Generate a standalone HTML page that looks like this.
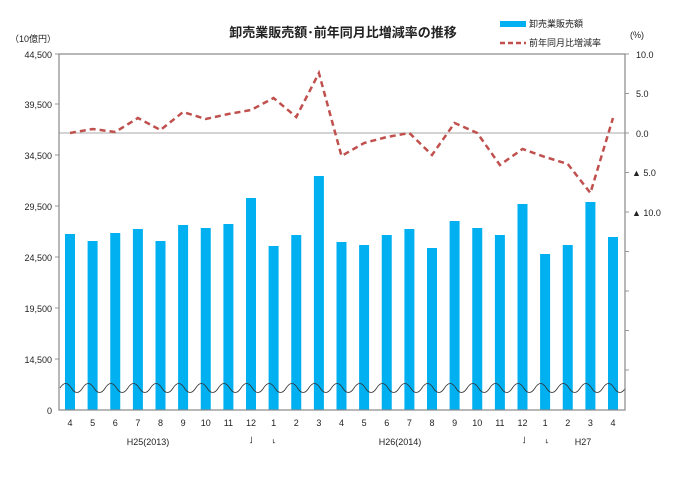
<!DOCTYPE html>
<html><head><meta charset="utf-8"><style>
body{margin:0;background:#fff}
svg text{font-family:"Liberation Sans","Noto Sans CJK JP",sans-serif}
</style></head><body>
<svg width="695" height="472" viewBox="0 0 695 472" xmlns="http://www.w3.org/2000/svg">
<rect width="695" height="472" fill="#fff"/>
<text x="343" y="37" font-size="13" font-weight="bold" text-anchor="middle" fill="#222">卸売業販売額･前年同月比増減率の推移</text>
<rect x="500" y="21" width="26" height="6" fill="#00b0f0"/>
<text x="529" y="27" font-size="9" fill="#222">卸売業販売額</text>
<line x1="500" y1="43" x2="526" y2="43" stroke="#c0504d" stroke-width="2.5" stroke-dasharray="5,3"/>
<text x="529" y="46" font-size="9" fill="#222">前年同月比増減率</text>
<text x="10" y="42" font-size="9" fill="#222">（10億円）</text>
<text x="630" y="38" font-size="9" fill="#222">(%)</text>
<g font-size="9" fill="#222" text-anchor="end">
<text x="52" y="58">44,500</text><text x="52" y="108">39,500</text><text x="52" y="159">34,500</text>
<text x="52" y="210">29,500</text><text x="52" y="261">24,500</text><text x="52" y="312">19,500</text>
<text x="52" y="363">14,500</text><text x="52" y="414">0</text>
</g>
<g font-size="9" fill="#222">
<text x="636" y="58">10.0</text><text x="636" y="97">5.0</text><text x="636" y="137">0.0</text>
<text x="632" y="176">▲ 5.0</text><text x="632" y="216">▲ 10.0</text>
</g>
<g stroke="#999" stroke-width="1">
<line x1="625" y1="54" x2="629" y2="54"/><line x1="625" y1="93.5" x2="629" y2="93.5"/><line x1="625" y1="133" x2="629" y2="133"/>
<line x1="625" y1="172.5" x2="629" y2="172.5"/><line x1="625" y1="212" x2="629" y2="212"/><line x1="625" y1="251.5" x2="629" y2="251.5"/>
<line x1="625" y1="291" x2="629" y2="291"/><line x1="625" y1="330.5" x2="629" y2="330.5"/><line x1="625" y1="370" x2="629" y2="370"/>
<line x1="55" y1="54" x2="59" y2="54"/><line x1="55" y1="104" x2="59" y2="104"/><line x1="55" y1="155" x2="59" y2="155"/>
<line x1="55" y1="206" x2="59" y2="206"/><line x1="55" y1="257" x2="59" y2="257"/><line x1="55" y1="308" x2="59" y2="308"/>
<line x1="55" y1="359" x2="59" y2="359"/>
</g>
<line x1="59" y1="133" x2="625" y2="133" stroke="#bbb" stroke-width="1.2"/>
<g fill="#00b0f0">
<rect x="65" y="234" width="10" height="176"/>
<rect x="87.6" y="241" width="10" height="169"/>
<rect x="110.25" y="233" width="10" height="177"/>
<rect x="132.9" y="229" width="10" height="181"/>
<rect x="155.5" y="241" width="10" height="169"/>
<rect x="178.1" y="225" width="10" height="185"/>
<rect x="200.75" y="228" width="10" height="182"/>
<rect x="223.4" y="224" width="10" height="186"/>
<rect x="246" y="198" width="10" height="212"/>
<rect x="268.6" y="246" width="10" height="164"/>
<rect x="291.25" y="235" width="10" height="175"/>
<rect x="313.9" y="176" width="10" height="234"/>
<rect x="336.5" y="242" width="10" height="168"/>
<rect x="359.1" y="245" width="10" height="165"/>
<rect x="381.75" y="235" width="10" height="175"/>
<rect x="404.4" y="229" width="10" height="181"/>
<rect x="427" y="248" width="10" height="162"/>
<rect x="449.6" y="221" width="10" height="189"/>
<rect x="472.25" y="228" width="10" height="182"/>
<rect x="494.9" y="235" width="10" height="175"/>
<rect x="517.5" y="204" width="10" height="206"/>
<rect x="540.1" y="254" width="10" height="156"/>
<rect x="562.75" y="245" width="10" height="165"/>
<rect x="585.4" y="202" width="10" height="208"/>
<rect x="608" y="237" width="10" height="173"/>
</g>
<path id="wave" fill="none" stroke="#333" stroke-width="0.8" d="M60,388 q5.66,-9 11.31,0 t11.31,0 t11.31,0 t11.31,0 t11.31,0 t11.31,0 t11.31,0 t11.31,0 t11.31,0 t11.31,0 t11.31,0 t11.31,0 t11.31,0 t11.31,0 t11.31,0 t11.31,0 t11.31,0 t11.31,0 t11.31,0 t11.31,0 t11.31,0 t11.31,0 t11.31,0 t11.31,0 t11.31,0 t11.31,0 t11.31,0 t11.31,0 t11.31,0 t11.31,0 t11.31,0 t11.31,0 t11.31,0 t11.31,0 t11.31,0 t11.31,0 t11.31,0 t11.31,0 t11.31,0 t11.31,0 t11.31,0 t11.31,0 t11.31,0 t11.31,0 t11.31,0 t11.31,0 t11.31,0 t11.31,0 t11.31,0 t11.31,0"/>
<polyline fill="none" stroke="#c0504d" stroke-width="2.5" stroke-dasharray="6,4" points="70,133 92.6,129 115.25,132 137.9,118 160.5,130 183.1,112 205.75,119 228.4,114 251,110 273.6,98 296.25,117 318.9,73 341.5,156 364.1,143 386.75,137 409.4,133 432,155 454.6,123 477.25,133 499.9,165 522.5,149 545.1,157 567.75,164 590.4,193 613,118"/>
<rect x="59" y="54" width="566" height="356" fill="none" stroke="#888" stroke-width="1.2"/>
<g font-size="9" fill="#222" text-anchor="middle">
<text x="70" y="426">4</text><text x="92.6" y="426">5</text><text x="115.25" y="426">6</text><text x="137.9" y="426">7</text>
<text x="160.5" y="426">8</text><text x="183.1" y="426">9</text><text x="205.75" y="426">10</text><text x="228.4" y="426">11</text>
<text x="251" y="426">12</text><text x="273.6" y="426">1</text><text x="296.25" y="426">2</text><text x="318.9" y="426">3</text>
<text x="341.5" y="426">4</text><text x="364.1" y="426">5</text><text x="386.75" y="426">6</text><text x="409.4" y="426">7</text>
<text x="432" y="426">8</text><text x="454.6" y="426">9</text><text x="477.25" y="426">10</text><text x="499.9" y="426">11</text>
<text x="522.5" y="426">12</text><text x="545.1" y="426">1</text><text x="567.75" y="426">2</text><text x="590.4" y="426">3</text>
<text x="613" y="426">4</text>
</g>
<g font-size="9" fill="#222" text-anchor="middle">
<text x="148" y="445">H25(2013)</text><text x="400" y="445">H26(2014)</text><text x="583" y="445">H27</text>
<text x="251" y="443">˩</text><text x="274" y="443">˪</text><text x="524" y="443">˩</text><text x="547" y="443">˪</text>
</g>
</svg>
</body></html>
